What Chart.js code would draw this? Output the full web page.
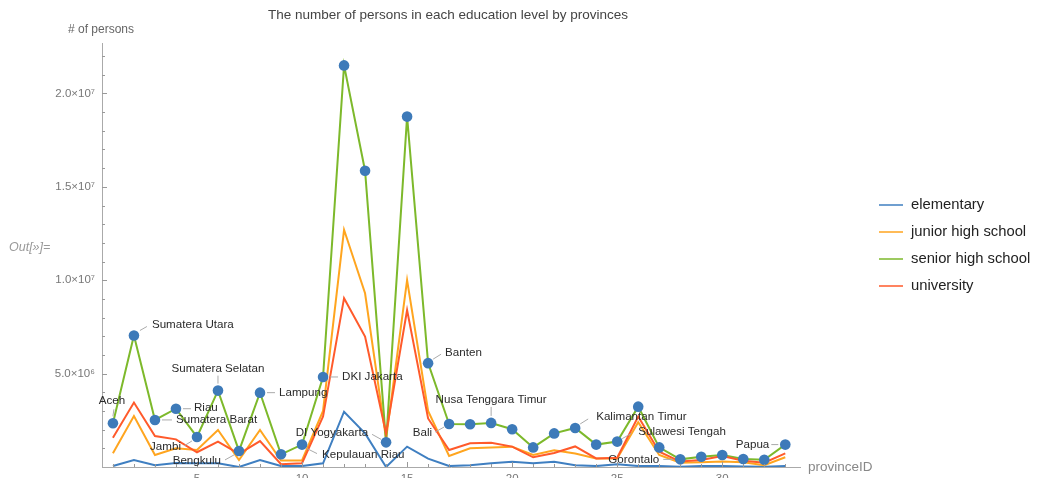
<!DOCTYPE html>
<html>
<head>
<meta charset="utf-8">
<script src="https://cdn.jsdelivr.net/npm/chart.js@4.4.1/dist/chart.umd.min.js"></script>
<style>
  html, body { margin: 0; padding: 0; background: #fff; overflow: hidden; }
  #wrap { width: 1039px; height: 478px; overflow: hidden; }
</style>
</head>
<body>
<div id="wrap"><canvas id="eduChart" width="1039" height="490"></canvas></div>
<script>
// province ids 1..33 and their names
var provinceID = [1,2,3,4,5,6,7,8,9,10,11,12,13,14,15,16,17,18,19,20,21,22,23,24,25,26,27,28,29,30,31,32,33];
var provinceNames = [
  'Aceh','Sumatera Utara','Sumatera Barat','Riau','Jambi','Sumatera Selatan','Bengkulu','Lampung',
  'Kepulauan Bangka Belitung','Kepulauan Riau','DKI Jakarta','Jawa Barat','Jawa Tengah','DI Yogyakarta',
  'Jawa Timur','Banten','Bali','Nusa Tenggara Barat','Nusa Tenggara Timur','Kalimantan Barat',
  'Kalimantan Tengah','Kalimantan Selatan','Kalimantan Timur','Sulawesi Utara','Sulawesi Tengah',
  'Sulawesi Selatan','Sulawesi Tenggara','Gorontalo','Sulawesi Barat','Maluku','Maluku Utara',
  'Papua Barat','Papua'
];

// values in persons (millions * 1e6)
var elementary = [0.05,0.37,0.1,0.22,0.2,0.2,0.0,0.37,0.05,0.05,0.2,2.96,1.8,0.0,1.09,0.45,0.05,0.1,0.2,0.28,0.2,0.28,0.1,0.05,0.15,0.05,0.05,0.02,0.05,0.05,0.03,0.02,0.05].map(function(v){ return v*1e6; });
var juniorHigh = [0.73,2.73,0.64,1.0,0.91,1.98,0.37,1.98,0.35,0.35,3.0,12.7,9.3,1.5,10.0,3.0,0.59,1.0,1.05,1.09,0.64,0.9,0.72,0.46,0.46,2.4,0.64,0.23,0.25,0.29,0.25,0.1,0.52].map(function(v){ return v*1e6; });
var seniorHigh = [2.34,7.04,2.52,3.12,1.61,4.09,0.86,3.98,0.68,1.2,4.82,21.5,15.86,1.32,18.76,5.56,2.3,2.29,2.36,2.02,1.05,1.8,2.09,1.2,1.36,3.23,1.05,0.41,0.55,0.64,0.43,0.39,1.2].map(function(v){ return v*1e6; });
var university = [1.57,3.45,1.66,1.48,0.79,1.36,0.7,1.39,0.15,0.2,2.7,9.04,6.98,1.8,8.4,2.6,0.91,1.27,1.3,1.09,0.52,0.75,1.1,0.46,0.5,2.7,0.82,0.29,0.37,0.59,0.34,0.23,0.73].map(function(v){ return v*1e6; });

var seriesNames = ['elementary','junior high school','senior high school','university'];
var xTicks = [5,10,15,20,25,30];
var yTicks = [5e6,1e7,1.5e7,2e7];
var yTickLabels = ['5.0\u00d710\u2076','1.0\u00d710\u2077','1.5\u00d710\u2077','2.0\u00d710\u2077'];

// provinces that get a callout (by name)
var calloutNames = ['Aceh','Sumatera Utara','Sumatera Barat','Riau','Jambi','Sumatera Selatan','Bengkulu','Lampung',
  'Kepulauan Riau','DKI Jakarta','DI Yogyakarta','Banten','Bali','Nusa Tenggara Timur','Kalimantan Timur',
  'Sulawesi Tengah','Gorontalo','Papua'];

// callout placement: text offset, alignment, connector (relative to the dot)
var calloutPlace = {
  'Aceh':               {dx:-1, dy:-22, al:'center', a:[0,-7],  b:[1,-14]},
  'Sumatera Utara':     {dx:18, dy:-11, al:'left',   a:[6,-5],  b:[13,-9]},
  'Sumatera Barat':     {dx:21, dy:0,   al:'left',   a:[7,0],   b:[17,0]},
  'Riau':               {dx:18, dy:-1,  al:'left',   a:[7,0],   b:[15,0]},
  'Jambi':              {dx:-16,dy:10,  al:'right',  a:[-5,4],  b:[-13,9]},
  'Sumatera Selatan':   {dx:0,  dy:-22, al:'center', a:[0,-7],  b:[0,-15]},
  'Bengkulu':           {dx:-18,dy:10,  al:'right',  a:[-5,4],  b:[-14,9]},
  'Lampung':            {dx:19, dy:0,   al:'left',   a:[7,0],   b:[15,0]},
  'Kepulauan Riau':     {dx:20, dy:10,  al:'left',   a:[5,4],   b:[15,9]},
  'DKI Jakarta':        {dx:19, dy:0,   al:'left',   a:[7,0],   b:[15,0]},
  'DI Yogyakarta':      {dx:-18,dy:-10, al:'right',  a:[-5,-3], b:[-14,-8]},
  'Banten':             {dx:17, dy:-10, al:'left',   a:[5,-4],  b:[13,-9]},
  'Bali':               {dx:-17,dy:9,   al:'right',  a:[-5,3],  b:[-14,8]},
  'Nusa Tenggara Timur':{dx:0,  dy:-23, al:'center', a:[0,-7],  b:[0,-16]},
  'Kalimantan Timur':   {dx:21, dy:-11, al:'left',   a:[5,-4],  b:[13,-9]},
  'Sulawesi Tengah':    {dx:21, dy:-10, al:'left',   a:[5,-3],  b:[14,-8]},
  'Gorontalo':          {dx:-21,dy:0,   al:'right',  a:[-7,0],  b:[-17,0]},
  'Papua':              {dx:-16,dy:0,   al:'right',  a:[-7,0],  b:[-14,0]}
};

var colors = ['#3F7FC1','#FFA51F','#7DB92B','#FF5A2B'];
var dotColor = '#3D7AB9';
var fontFam = '"Liberation Sans", Arial, sans-serif';

function pts(arr){
  return arr.map(function(v, i){ return {x: provinceID[i], y: v}; });
}

var extras = {
  id: 'extras',
  afterDraw: function(chart){
    var ctx = chart.ctx, xs = chart.scales.x, ys = chart.scales.y, ca = chart.chartArea;
    ctx.save();

    // tick marks (minor + major)
    ctx.strokeStyle = '#999';
    ctx.lineWidth = 1;
    ctx.beginPath();
    for (var i = 1; i <= 33; i++) {
      var px = Math.round(xs.getPixelForValue(i)) + 0.5;
      var len = (i % 5 === 0) ? 5 : 3;
      ctx.moveTo(px, ca.bottom); ctx.lineTo(px, ca.bottom - len);
    }
    for (var j = 1; j <= 22; j++) {
      var py = Math.round(ys.getPixelForValue(j*1e6)) + 0.5;
      var l2 = (j % 5 === 0) ? 5 : 3;
      ctx.moveTo(ca.left, py); ctx.lineTo(ca.left + l2, py);
    }
    ctx.stroke();

    // title and axis labels
    ctx.fillStyle = '#444';
    ctx.font = '13.5px ' + fontFam;
    ctx.textAlign = 'center'; ctx.textBaseline = 'middle';
    ctx.fillText('The number of persons in each education level by provinces', 448, 15);
    ctx.fillStyle = '#666';
    ctx.font = '12px ' + fontFam;
    ctx.fillText('# of persons', 101, 30);
    ctx.textAlign = 'left';
    ctx.fillStyle = '#888';
    ctx.font = '13.5px ' + fontFam;
    ctx.fillText('provinceID', 808, 467);
    ctx.fillStyle = '#999';
    ctx.font = 'italic 12.5px ' + fontFam;
    ctx.fillText('Out[\u00bb]=', 9, 248);

    // callouts
    ctx.font = '11.6px ' + fontFam;
    calloutNames.forEach(function(name){
      var idx = provinceNames.indexOf(name);
      var p = calloutPlace[name];
      var cx = xs.getPixelForValue(provinceID[idx]);
      var cy = ys.getPixelForValue(seniorHigh[idx]);
      ctx.strokeStyle = '#aaa';
      ctx.lineWidth = 1;
      ctx.beginPath();
      ctx.moveTo(cx + p.a[0], cy + p.a[1]);
      ctx.lineTo(cx + p.b[0], cy + p.b[1]);
      ctx.stroke();
      ctx.fillStyle = '#2a2a2a';
      ctx.textAlign = p.al;
      ctx.textBaseline = 'middle';
      ctx.fillText(name, cx + p.dx, cy + p.dy);
    });

    // legend
    ctx.font = '14.8px ' + fontFam;
    ctx.textAlign = 'left'; ctx.textBaseline = 'middle';
    seriesNames.forEach(function(s, k){
      var ly = 205 + k*27;
      ctx.strokeStyle = colors[k];
      ctx.lineWidth = 1.5;
      ctx.beginPath(); ctx.moveTo(879, ly); ctx.lineTo(903, ly); ctx.stroke();
      ctx.fillStyle = '#222';
      ctx.fillText(s, 911, ly);
    });
    ctx.restore();
  }
};

var lineDs = function(label, arr, color, order){
  return {
    label: label, data: pts(arr), borderColor: color, backgroundColor: color,
    borderWidth: 2, pointRadius: 0, tension: 0, fill: false, order: order
  };
};

var eduChart = new Chart(document.getElementById('eduChart'), {
  type: 'line',
  data: {
    datasets: [
      {
        label: 'dots', data: pts(seniorHigh), showLine: false,
        pointRadius: 5.3, pointBackgroundColor: dotColor, pointBorderColor: dotColor,
        pointBorderWidth: 0, order: 0
      },
      lineDs(seriesNames[3], university, colors[3], 1),
      lineDs(seriesNames[2], seniorHigh, colors[2], 2),
      lineDs(seriesNames[1], juniorHigh, colors[1], 3),
      lineDs(seriesNames[0], elementary, colors[0], 4)
    ]
  },
  options: {
    responsive: false,
    animation: false,
    layout: { padding: { left: 0, right: 239, top: 43, bottom: 0 } },
    scales: {
      x: {
        type: 'linear', min: 0.48, max: 33.7,
        grid: { display: false, drawTicks: false },
        border: { display: true, color: '#aaa', width: 1 },
        afterBuildTicks: function(scale){ scale.ticks = xTicks.map(function(v){ return {value: v}; }); },
        afterFit: function(scale){ scale.height = 23; },
        ticks: {
          padding: 5, color: '#777', maxRotation: 0,
          font: { size: 11.5, family: fontFam },
          callback: function(v){ return String(v); }
        }
      },
      y: {
        type: 'linear', min: 0, max: 2.27e7,
        grid: { display: false, drawTicks: false },
        border: { display: true, color: '#aaa', width: 1 },
        afterBuildTicks: function(scale){ scale.ticks = yTicks.map(function(v){ return {value: v}; }); },
        afterFit: function(scale){ scale.width = 102; },
        ticks: {
          padding: 7, color: '#777',
          font: { size: 11.5, family: fontFam },
          callback: function(v){ var k = yTicks.indexOf(v); return k >= 0 ? yTickLabels[k] : ''; }
        }
      }
    },
    plugins: {
      legend: { display: false },
      title: { display: false },
      tooltip: { enabled: false }
    }
  },
  plugins: [extras]
});
</script>
</body>
</html>
